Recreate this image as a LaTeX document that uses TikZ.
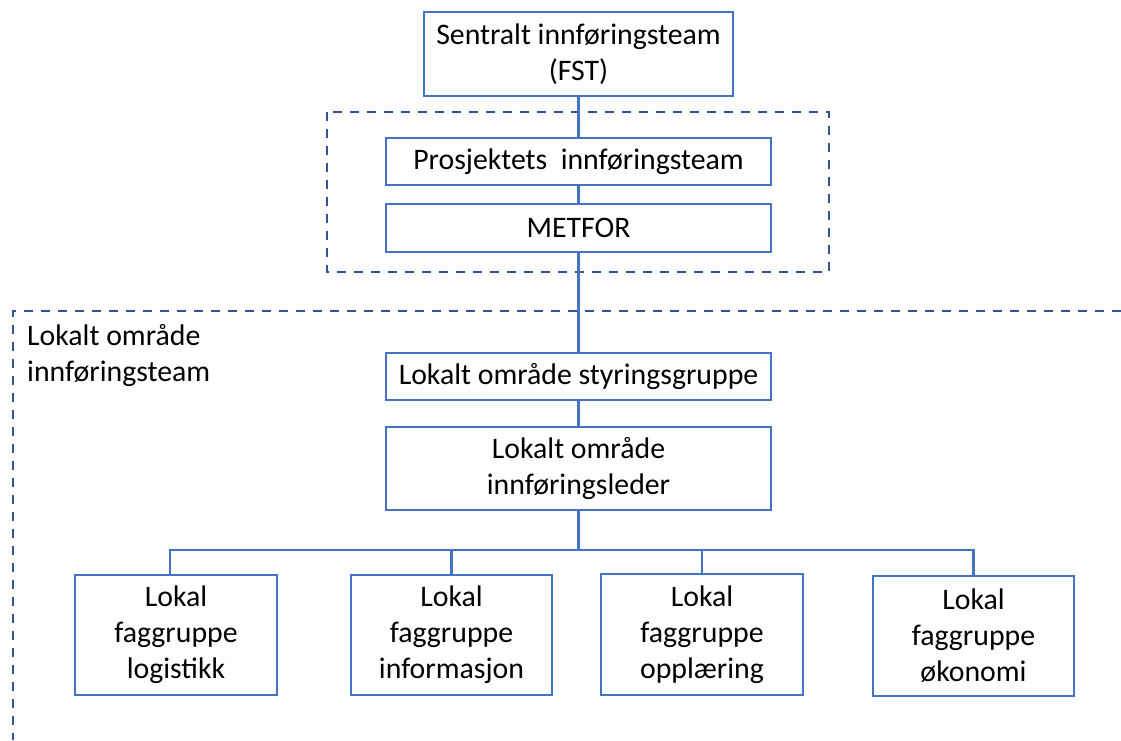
\documentclass[tikz,border=0pt]{standalone}
\usepackage{fontspec}
\setmainfont{Carlito}
\usepackage{xcolor}
\usepackage{tikz}
\usetikzlibrary{positioning,calc}
\definecolor{boxblue}{HTML}{4472C4}
\definecolor{dashblue}{HTML}{2F5597}

\begin{document}
\begin{tikzpicture}[x=1pt, y=-1pt,
    unit/.style={draw=boxblue, line width=2.5pt, inner sep=0pt, align=center,
        font=\fontsize{29.8}{36}\selectfont, text=black},
    link/.style={draw=boxblue, line width=2.5pt},
    group/.style={draw=dashblue, line width=2.8pt, dash pattern=on 9pt off 8pt}]
    \useasboundingbox (0,0) rectangle (1121,740);

    % Top level
    \node[unit, minimum width=309pt, minimum height=84pt] (fst) at (578.5,54) {Sentralt innføringsteam\\(FST)};
    \node[unit, minimum width=385pt, minimum height=47pt] (pros) at (578.5,161.5) {Prosjektets\ \ innføringsteam};
    \node[unit, minimum width=385pt, minimum height=48pt] (metfor) at (578.5,228) {METFOR};

    % Local level
    \node[unit, minimum width=385pt, minimum height=47pt] (styr) at (578.5,376.5) {Lokalt område styringsgruppe};
    \node[unit, minimum width=385pt, minimum height=83pt] (leder) at (578.5,468.5) {Lokalt område\\innføringsleder};

    % Groups
    \node[unit, minimum width=202pt, minimum height=120pt] (logistikk) at (176,635) {Lokal\\faggruppe\\logistikk};
    \node[unit, minimum width=201pt, minimum height=120pt] (informasjon) at (451.5,635) {Lokal\\faggruppe\\informasjon};
    \node[unit, minimum width=202pt, minimum height=121pt] (opplaering) at (702,634.5) {Lokal\\faggruppe\\opplæring};
    \node[unit, minimum width=201pt, minimum height=120pt] (okonomi) at (973.5,636) {Lokal\\faggruppe\\økonomi};

    % Dashed frames
    \draw[group] (327,112) rectangle (829,272);
    \draw[group] (1121,311) -- (13,311) -- (13,740);
    \node[anchor=north west, inner sep=0pt, align=left, font=\fontsize{29.8}{36}\selectfont] (lokalteam) at (27,324) {Lokalt område\\innføringsteam};

    % Connectors
    \coordinate (bus) at (578.5,550);
    \draw[link] (fst) -- (pros);
    \draw[link] (pros) -- (metfor);
    \draw[link] (metfor) -- (styr);
    \draw[link] (styr) -- (leder);
    \draw[link] (leder) -- (bus);
    \draw[link] ([xshift=-6pt]logistikk.north) |- (bus) -| (okonomi.north);
    \draw[link] (informasjon.north) -- (informasjon.north |- bus);
    \draw[link] (opplaering.north) -- (opplaering.north |- bus);
\end{tikzpicture}
\end{document}
